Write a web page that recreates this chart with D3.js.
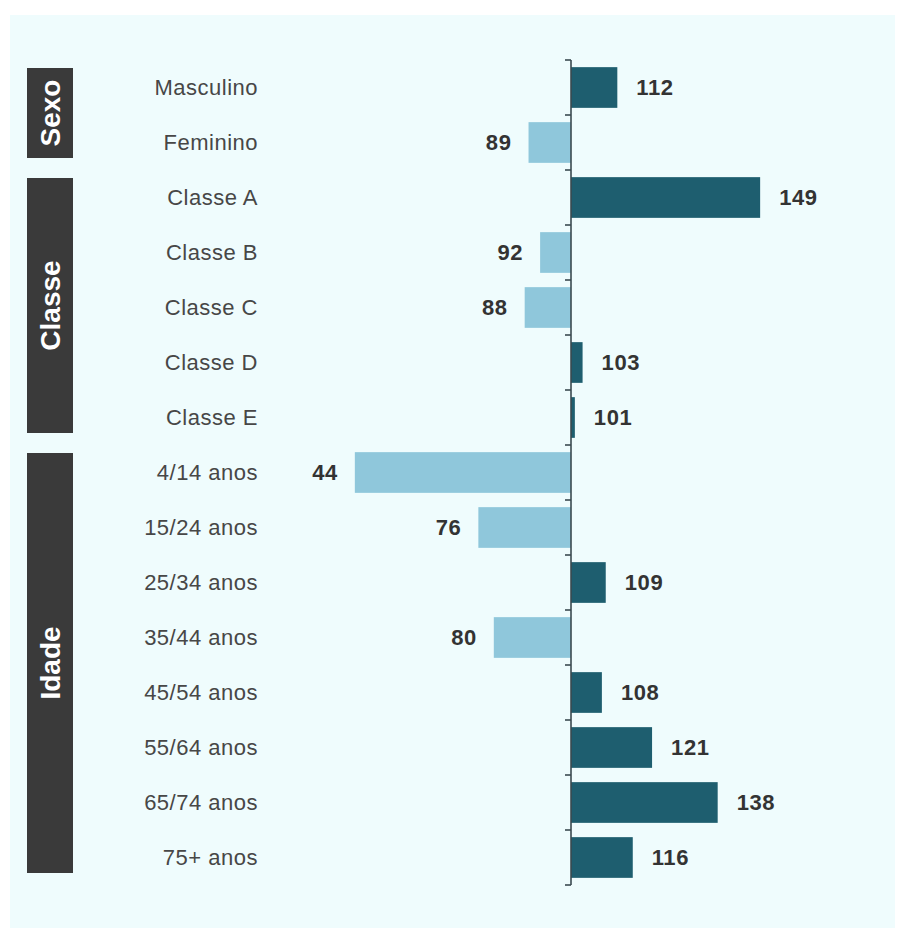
<!DOCTYPE html>
<html>
<head>
<meta charset="utf-8">
<script src="https://cdn.jsdelivr.net/npm/d3@7"></script>
<style>
  body { margin: 0; background: #ffffff; }
  svg { display: block; }
</style>
</head>
<body>
<div id="wrapper"></div>
<script>
// Data
const categories = [
  "Masculino", "Feminino",
  "Classe A", "Classe B", "Classe C", "Classe D", "Classe E",
  "4/14 anos", "15/24 anos", "25/34 anos", "35/44 anos", "45/54 anos",
  "55/64 anos", "65/74 anos", "75+ anos"
];
const values = [112, 89, 149, 92, 88, 103, 101, 44, 76, 109, 80, 108, 121, 138, 116];
const groupNames = ["Sexo", "Classe", "Idade"];
const groupFirst = [0, 2, 7];
const groupLast = [1, 6, 14];
const baseline = 100;

function drawBars() {
  const dimensions = {
    width: 898,
    height: 933,
    margin: { top: 60, right: 40, bottom: 48, left: 571 },
  };

  const wrapper = d3.select("#wrapper")
    .append("svg")
      .attr("width", dimensions.width)
      .attr("height", dimensions.height);

  // panel background
  wrapper.append("rect")
    .attr("x", 10)
    .attr("y", 15)
    .attr("width", 885)
    .attr("height", 913)
    .attr("fill", "#effcfd");

  const yScale = d3.scaleBand()
    .domain(categories)
    .range([dimensions.margin.top, dimensions.height - dimensions.margin.bottom])
    .paddingInner(0.26)
    .paddingOuter(0.13);

  const pxPerUnit = 3.86;
  const xScale = d3.scaleLinear()
    .domain([0, 200])
    .range([571 - 100 * pxPerUnit, 571 + 100 * pxPerUnit]);

  const x0 = xScale(baseline);
  const step = yScale.step();
  const top = dimensions.margin.top;

  // bars
  wrapper.append("g")
    .selectAll("rect")
    .data(values)
    .join("rect")
      .attr("x", d => Math.min(xScale(d), x0))
      .attr("y", (d, i) => yScale(categories[i]))
      .attr("width", d => Math.abs(xScale(d) - x0))
      .attr("height", yScale.bandwidth())
      .attr("fill", d => d >= baseline ? "#1e5e6f" : "#8fc7db");

  // value labels
  wrapper.append("g")
    .selectAll("text")
    .data(values)
    .join("text")
      .attr("x", d => d >= baseline ? xScale(d) + 19 : xScale(d) - 17)
      .attr("y", (d, i) => yScale(categories[i]) + yScale.bandwidth() / 2)
      .attr("dy", "0.36em")
      .attr("text-anchor", d => d >= baseline ? "start" : "end")
      .attr("font-family", "'Liberation Sans', Arial, sans-serif")
      .attr("font-weight", "bold")
      .attr("font-size", 22)
      .attr("letter-spacing", "0.6")
      .attr("fill", "#333333")
      .text(d => d);

  // category labels
  wrapper.append("g")
    .selectAll("text")
    .data(categories)
    .join("text")
      .attr("x", 258)
      .attr("y", d => yScale(d) + yScale.bandwidth() / 2)
      .attr("dy", "0.36em")
      .attr("text-anchor", "end")
      .attr("font-family", "'Liberation Sans', Arial, sans-serif")
      .attr("font-size", 22)
      .attr("letter-spacing", "0.5")
      .attr("fill", "#474747")
      .text(d => d);

  // axis at baseline with ticks between rows
  const tickYs = d3.range(categories.length + 1).map(i => top + i * step);
  const axis = wrapper.append("g").attr("stroke", "#3a4a50");
  axis.append("line")
    .attr("x1", x0).attr("x2", x0)
    .attr("y1", tickYs[0]).attr("y2", tickYs[tickYs.length - 1])
    .attr("stroke-width", 1.6);
  axis.selectAll("line.tick")
    .data(tickYs)
    .join("line")
      .attr("class", "tick")
      .attr("x1", x0 - 6).attr("x2", x0)
      .attr("y1", d => d).attr("y2", d => d)
      .attr("stroke-width", 1.6);

  // group boxes
  const groups = wrapper.append("g");
  groupNames.forEach((name, g) => {
    const y1 = top + groupFirst[g] * step + 8;
    const y2 = top + (groupLast[g] + 1) * step - 12;
    groups.append("rect")
      .attr("x", 27)
      .attr("y", y1)
      .attr("width", 46)
      .attr("height", y2 - y1)
      .attr("fill", "#3a3a3a");
    groups.append("text")
      .attr("transform", `translate(50, ${(y1 + y2) / 2}) rotate(-90)`)
      .attr("text-anchor", "middle")
      .attr("dy", "0.36em")
      .attr("font-family", "'Liberation Sans', Arial, sans-serif")
      .attr("font-weight", "bold")
      .attr("font-size", 28)
      .attr("fill", "#ffffff")
      .text(name);
  });
}
drawBars();
</script>
</body>
</html>
